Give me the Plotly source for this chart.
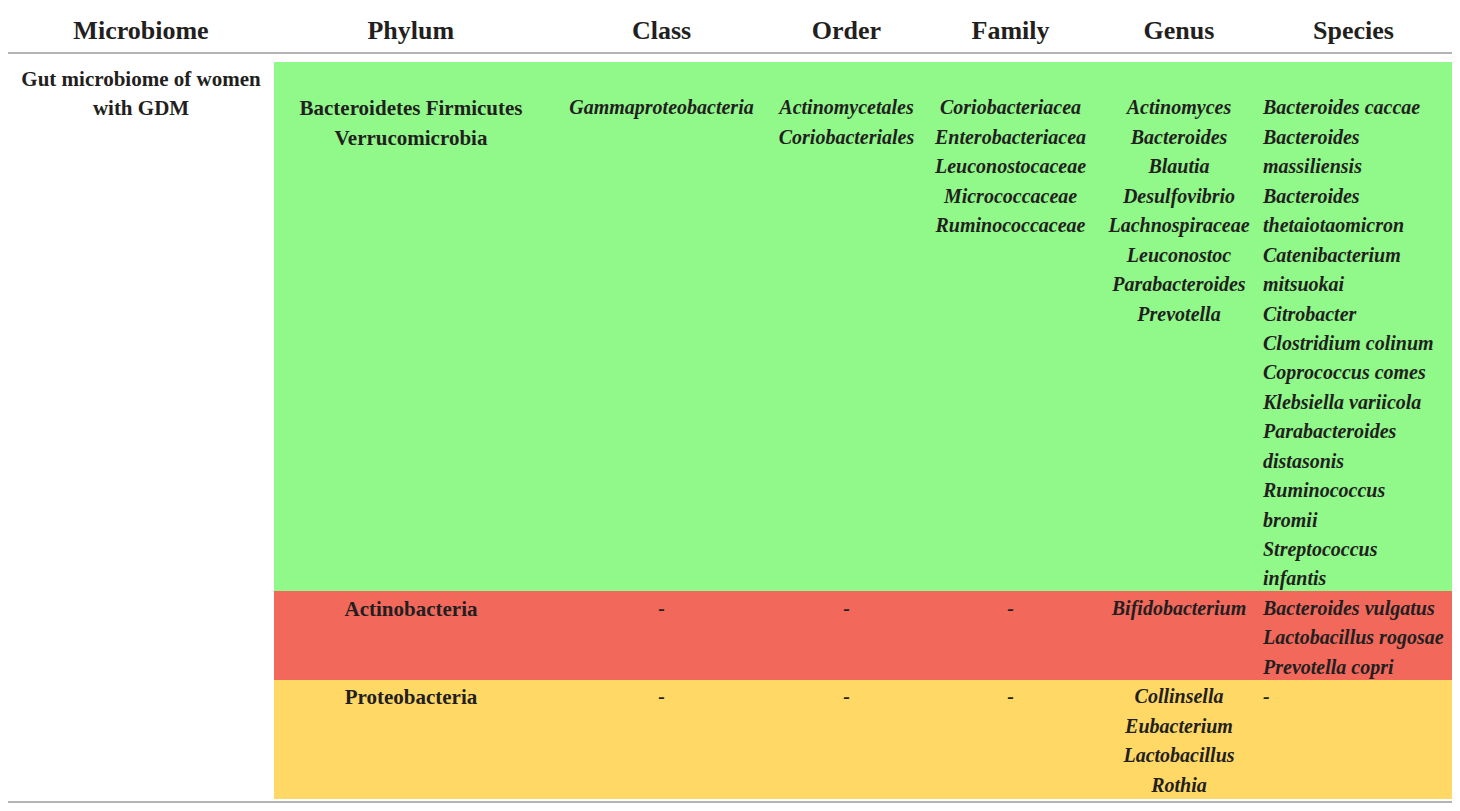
import plotly.graph_objects as go

# ---- table content (one entry per printed line) ---------------------------
headers = ["Microbiome", "Phylum", "Class", "Order", "Family", "Genus", "Species"]
groups = ["increased", "decreased", "other"]

microbiome = [["Gut microbiome of women", "with GDM"], [], []]
phylum = [
    ["Bacteroidetes Firmicutes", "Verrucomicrobia"],
    ["Actinobacteria"],
    ["Proteobacteria"],
]
class_ = [["Gammaproteobacteria"], ["-"], ["-"]]
order = [["Actinomycetales", "Coriobacteriales"], ["-"], ["-"]]
family = [
    ["Coriobacteriacea", "Enterobacteriacea", "Leuconostocaceae",
     "Micrococcaceae", "Ruminococcaceae"],
    ["-"],
    ["-"],
]
genus = [
    ["Actinomyces", "Bacteroides", "Blautia", "Desulfovibrio",
     "Lachnospiraceae", "Leuconostoc", "Parabacteroides", "Prevotella"],
    ["Bifidobacterium"],
    ["Collinsella", "Eubacterium", "Lactobacillus", "Rothia"],
]
species = [
    ["Bacteroides caccae", "Bacteroides", "massiliensis", "Bacteroides",
     "thetaiotaomicron", "Catenibacterium", "mitsuokai", "Citrobacter",
     "Clostridium colinum", "Coprococcus comes", "Klebsiella variicola",
     "Parabacteroides", "distasonis", "Ruminococcus", "bromii",
     "Streptococcus", "infantis"],
    ["Bacteroides vulgatus", "Lactobacillus rogosae", "Prevotella copri"],
    ["-"],
]

group_fill = ["#90F98A", "#F2695C", "#FFD866"]

# ---- layout constants -----------------------------------------------------
W, H = 1444, 803          # page adds an 8px body margin round the figure
COLW = [266, 274, 227, 143, 185, 152, 197]
ROW_H = 29.44
TXT = "#231F20"
FONT = "Liberation Serif"

columns = [microbiome, phylum, class_, order, family, genus, species]
# in the first group the taxa start one line below the microbiome label
lead = [[0, 0, 0]] + [[1, 0, 0] for _ in columns[1:]]

n_rows = [max(len(col[g]) + lead[c][g] for c, col in enumerate(columns))
          for g in range(len(groups))]

values, fills = [], []
for c, col in enumerate(columns):
    v, f = [], []
    for g in range(len(groups)):
        lines = [""] * lead[c][g] + [s.replace(" ", "\u00a0") for s in col[g]]
        lines += [""] * (n_rows[g] - len(lines))
        v += lines
        f += ["white" if c == 0 else group_fill[g]] * n_rows[g]
    values.append(v)
    fills.append(f)

fig = go.Figure(go.Table(
    columnwidth=COLW,
    header=dict(
        values=[f"<b>{h}</b>" for h in headers],
        fill_color="white",
        line=dict(color="white", width=0),
        align="center",
        height=54,
        font=dict(family=FONT, size=26, color=TXT),
    ),
    cells=dict(
        values=values,
        fill_color=fills,
        line=dict(color=fills, width=1),
        align=["center"] * 6 + ["left"],
        height=ROW_H,
        font=dict(family=FONT, size=[21, 21, 20, 20, 20, 20, 20], color=TXT,
                  weight="bold",
                  style=["normal", "normal"] + ["italic"] * 5),
    ),
))

# horizontal rules under the header and at the foot of the table
for ypix in (45, 794):
    fig.add_shape(type="line", xref="paper", yref="paper",
                  x0=0, x1=1, y0=1 - ypix / H, y1=1 - ypix / H,
                  line=dict(color="#B4B4B4", width=2), layer="above")

fig.update_layout(
    width=W, height=H,
    margin=dict(l=0, r=0, t=0, b=0),
    paper_bgcolor="white",
    plot_bgcolor="white",
)

fig.write_html("out.html")
